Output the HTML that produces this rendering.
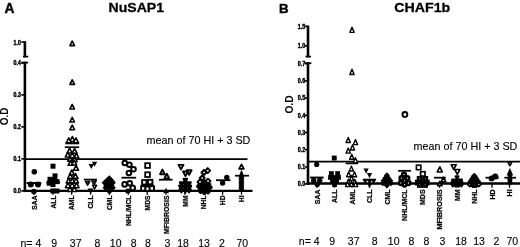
<!DOCTYPE html>
<html><head><meta charset="utf-8"><title>Figure</title>
<style>
html,body{margin:0;padding:0;background:#fff;}
body{width:520px;height:247px;overflow:hidden;font-family:"Liberation Sans",sans-serif;}
svg{display:block;filter:blur(0.3px);}
svg text{font-family:"Liberation Sans",sans-serif;fill:#000;}
</style></head><body>
<svg width="520" height="247" viewBox="0 0 520 247">
<rect width="520" height="247" fill="#fff"/>
<text x="4.4" y="12.7" font-size="13.8" font-weight="bold" text-anchor="start" stroke="#000" stroke-width="0.4">A</text>
<text x="108.6" y="11.5" font-size="13.6" font-weight="bold" text-anchor="start" textLength="55.4" lengthAdjust="spacingAndGlyphs" stroke="#000" stroke-width="0.3">NuSAP1</text>
<text x="278.9" y="12.8" font-size="13.6" font-weight="bold" text-anchor="start" stroke="#000" stroke-width="0.45" textLength="9.6" lengthAdjust="spacingAndGlyphs">B</text>
<text x="394.3" y="11.6" font-size="13.6" font-weight="bold" text-anchor="start" textLength="56.0" lengthAdjust="spacingAndGlyphs" stroke="#000" stroke-width="0.3">CHAF1b</text>
<path d="M24.9 41.3V57.3" stroke="#000" stroke-width="2.6"/>
<path d="M21.3 42.0H24.9" stroke="#000" stroke-width="1.6"/>
<path d="M22.9 56.6H28.3" stroke="#000" stroke-width="1.7"/>
<path d="M24.9 61.7V192.1" stroke="#000" stroke-width="2.6"/>
<path d="M21.3 62.9H24.9" stroke="#000" stroke-width="1.6"/>
<path d="M21.3 94.9H24.9" stroke="#000" stroke-width="1.6"/>
<path d="M21.3 126.9H24.9" stroke="#000" stroke-width="1.6"/>
<path d="M21.3 158.9H24.9" stroke="#000" stroke-width="1.6"/>
<path d="M21.3 190.9H24.9" stroke="#000" stroke-width="1.6"/>
<path d="M21.3 62.6H28.0" stroke="#000" stroke-width="1.8"/>
<text x="20.8" y="44.5" font-size="6.4" font-weight="bold" text-anchor="end" textLength="7.3" lengthAdjust="spacingAndGlyphs" stroke="#000" stroke-width="0.4">1.0</text>
<text x="20.8" y="65.2" font-size="6.4" font-weight="bold" text-anchor="end" textLength="7.3" lengthAdjust="spacingAndGlyphs" stroke="#000" stroke-width="0.4">0.4</text>
<text x="20.8" y="97.2" font-size="6.4" font-weight="bold" text-anchor="end" textLength="7.3" lengthAdjust="spacingAndGlyphs" stroke="#000" stroke-width="0.4">0.3</text>
<text x="20.8" y="129.2" font-size="6.4" font-weight="bold" text-anchor="end" textLength="7.3" lengthAdjust="spacingAndGlyphs" stroke="#000" stroke-width="0.4">0.2</text>
<text x="20.8" y="161.2" font-size="6.4" font-weight="bold" text-anchor="end" textLength="7.3" lengthAdjust="spacingAndGlyphs" stroke="#000" stroke-width="0.4">0.1</text>
<text x="20.8" y="193.2" font-size="6.4" font-weight="bold" text-anchor="end" textLength="7.3" lengthAdjust="spacingAndGlyphs" stroke="#000" stroke-width="0.4">0.0</text>
<text transform="translate(7.9 116.4) rotate(-90)" font-size="10" font-weight="bold" text-anchor="middle" stroke="#000" stroke-width="0.0">O.D</text>
<path d="M23.6 190.9H252.5" stroke="#000" stroke-width="2.4"/>
<path d="M34.0 190.9V194.7" stroke="#000" stroke-width="1.3"/>
<path d="M52.9 190.9V194.7" stroke="#000" stroke-width="1.3"/>
<path d="M71.7 190.9V194.7" stroke="#000" stroke-width="1.3"/>
<path d="M90.6 190.9V194.7" stroke="#000" stroke-width="1.3"/>
<path d="M109.4 190.9V194.7" stroke="#000" stroke-width="1.3"/>
<path d="M128.3 190.9V194.7" stroke="#000" stroke-width="1.3"/>
<path d="M147.2 190.9V194.7" stroke="#000" stroke-width="1.3"/>
<path d="M166.0 190.9V194.7" stroke="#000" stroke-width="1.3"/>
<path d="M184.9 190.9V194.7" stroke="#000" stroke-width="1.3"/>
<path d="M203.7 190.9V194.7" stroke="#000" stroke-width="1.3"/>
<path d="M222.6 190.9V194.7" stroke="#000" stroke-width="1.3"/>
<path d="M241.5 190.9V194.7" stroke="#000" stroke-width="1.3"/>
<path d="M24.9 159.2H247.5" stroke="#000" stroke-width="1.8"/>
<text x="146.5" y="143.6" font-size="10.2" font-weight="normal" text-anchor="start" textLength="103.9" lengthAdjust="spacingAndGlyphs" stroke="#000" stroke-width="0.12">mean of 70 HI + 3 SD</text>
<text transform="translate(36.6 195.5) rotate(-90)" font-size="6.7" font-weight="bold" text-anchor="end" stroke="#000" stroke-width="0.25">SAA</text>
<text transform="translate(55.5 195.5) rotate(-90)" font-size="6.7" font-weight="bold" text-anchor="end" stroke="#000" stroke-width="0.25">ALL</text>
<text transform="translate(74.3 195.5) rotate(-90)" font-size="6.7" font-weight="bold" text-anchor="end" stroke="#000" stroke-width="0.25">AML</text>
<text transform="translate(93.2 195.5) rotate(-90)" font-size="6.7" font-weight="bold" text-anchor="end" stroke="#000" stroke-width="0.25">CLL</text>
<text transform="translate(112.0 195.5) rotate(-90)" font-size="6.7" font-weight="bold" text-anchor="end" stroke="#000" stroke-width="0.25">CML</text>
<text transform="translate(130.9 195.5) rotate(-90)" font-size="6.7" font-weight="bold" text-anchor="end" stroke="#000" stroke-width="0.25" textLength="30.6" lengthAdjust="spacingAndGlyphs">NHL/MCL</text>
<text transform="translate(149.8 195.5) rotate(-90)" font-size="6.7" font-weight="bold" text-anchor="end" stroke="#000" stroke-width="0.25">MDS</text>
<text transform="translate(168.6 195.5) rotate(-90)" font-size="6.7" font-weight="bold" text-anchor="end" stroke="#000" stroke-width="0.25" textLength="38.4" lengthAdjust="spacingAndGlyphs">MFIBROSIS</text>
<text transform="translate(187.5 195.5) rotate(-90)" font-size="6.7" font-weight="bold" text-anchor="end" stroke="#000" stroke-width="0.25">MM</text>
<text transform="translate(206.3 195.5) rotate(-90)" font-size="6.7" font-weight="bold" text-anchor="end" stroke="#000" stroke-width="0.25">NHL</text>
<text transform="translate(225.2 195.5) rotate(-90)" font-size="6.7" font-weight="bold" text-anchor="end" stroke="#000" stroke-width="0.25">HD</text>
<text transform="translate(244.1 195.5) rotate(-90)" font-size="6.7" font-weight="bold" text-anchor="end" stroke="#000" stroke-width="0.25">HI</text>
<text x="20.5" y="247.1" font-size="10.5" font-weight="normal" text-anchor="start" stroke="#000" stroke-width="0.12">n= 4</text>
<text x="54.2" y="247.1" font-size="10.5" font-weight="normal" text-anchor="middle" stroke="#000" stroke-width="0.12">9</text>
<text x="75.7" y="247.1" font-size="10.5" font-weight="normal" text-anchor="middle" stroke="#000" stroke-width="0.12">37</text>
<text x="97.3" y="247.1" font-size="10.5" font-weight="normal" text-anchor="middle" stroke="#000" stroke-width="0.12">8</text>
<text x="115.7" y="247.1" font-size="10.5" font-weight="normal" text-anchor="middle" stroke="#000" stroke-width="0.12">10</text>
<text x="133.6" y="247.1" font-size="10.5" font-weight="normal" text-anchor="middle" stroke="#000" stroke-width="0.12">8</text>
<text x="148.0" y="247.1" font-size="10.5" font-weight="normal" text-anchor="middle" stroke="#000" stroke-width="0.12">8</text>
<text x="167.3" y="247.1" font-size="10.5" font-weight="normal" text-anchor="middle" stroke="#000" stroke-width="0.12">3</text>
<text x="183.0" y="247.1" font-size="10.5" font-weight="normal" text-anchor="middle" stroke="#000" stroke-width="0.12">18</text>
<text x="204.0" y="247.1" font-size="10.5" font-weight="normal" text-anchor="middle" stroke="#000" stroke-width="0.12">13</text>
<text x="222.0" y="247.1" font-size="10.5" font-weight="normal" text-anchor="middle" stroke="#000" stroke-width="0.12">2</text>
<text x="242.3" y="247.1" font-size="10.5" font-weight="normal" text-anchor="middle" stroke="#000" stroke-width="0.12">70</text>
<circle cx="34.3" cy="171.8" r="2.8" fill="#000"/>
<circle cx="30.8" cy="184.6" r="3.0" fill="#000"/>
<circle cx="38.0" cy="184.6" r="3.0" fill="#000"/>
<circle cx="33.9" cy="191.6" r="2.8" fill="#000"/>
<path d="M26.6 183.0H41.3" stroke="#000" stroke-width="2.0"/>
<rect x="50.5" y="163.7" width="5.0" height="5.0" fill="#000"/>
<rect x="52.5" y="173.4" width="5.0" height="5.0" fill="#000"/>
<rect x="47.5" y="176.8" width="5.0" height="5.0" fill="#000"/>
<rect x="52.0" y="177.7" width="5.0" height="5.0" fill="#000"/>
<rect x="54.5" y="179.1" width="5.0" height="5.0" fill="#000"/>
<rect x="46.7" y="180.7" width="5.0" height="5.0" fill="#000"/>
<rect x="50.5" y="182.1" width="5.0" height="5.0" fill="#000"/>
<rect x="50.3" y="188.5" width="5.0" height="5.0" fill="#000"/>
<rect x="54.5" y="188.5" width="5.0" height="5.0" fill="#000"/>
<path d="M46.5 182.6H60.0" stroke="#000" stroke-width="1.8"/>
<path d="M69.90 45.60L74.50 45.60L72.20 41.00Z" fill="#fff" stroke="#000" stroke-width="1.6" stroke-linejoin="round"/>
<path d="M69.90 84.40L74.50 84.40L72.20 79.80Z" fill="#fff" stroke="#000" stroke-width="1.6" stroke-linejoin="round"/>
<path d="M69.90 109.00L74.50 109.00L72.20 104.40Z" fill="#fff" stroke="#000" stroke-width="1.6" stroke-linejoin="round"/>
<path d="M69.90 122.00L74.50 122.00L72.20 117.40Z" fill="#fff" stroke="#000" stroke-width="1.6" stroke-linejoin="round"/>
<path d="M69.90 129.70L74.50 129.70L72.20 125.10Z" fill="#fff" stroke="#000" stroke-width="1.6" stroke-linejoin="round"/>
<path d="M69.88 141.47L74.93 141.47L72.40 136.53Z" fill="#fff" stroke="#000" stroke-width="1.55" stroke-linejoin="round"/>
<path d="M66.27 142.78L71.33 142.78L68.80 137.83Z" fill="#fff" stroke="#000" stroke-width="1.55" stroke-linejoin="round"/>
<path d="M73.47 142.78L78.53 142.78L76.00 137.83Z" fill="#fff" stroke="#000" stroke-width="1.55" stroke-linejoin="round"/>
<path d="M67.07 153.07L72.12 153.07L69.60 148.12Z" fill="#fff" stroke="#000" stroke-width="1.55" stroke-linejoin="round"/>
<path d="M72.07 153.38L77.12 153.38L74.60 148.43Z" fill="#fff" stroke="#000" stroke-width="1.55" stroke-linejoin="round"/>
<path d="M65.27 157.07L70.33 157.07L67.80 152.12Z" fill="#fff" stroke="#000" stroke-width="1.55" stroke-linejoin="round"/>
<path d="M69.67 157.67L74.73 157.67L72.20 152.72Z" fill="#fff" stroke="#000" stroke-width="1.55" stroke-linejoin="round"/>
<path d="M73.88 158.07L78.93 158.07L76.40 153.12Z" fill="#fff" stroke="#000" stroke-width="1.55" stroke-linejoin="round"/>
<path d="M67.67 161.28L72.73 161.28L70.20 156.33Z" fill="#fff" stroke="#000" stroke-width="1.55" stroke-linejoin="round"/>
<path d="M72.07 161.67L77.12 161.67L74.60 156.72Z" fill="#fff" stroke="#000" stroke-width="1.55" stroke-linejoin="round"/>
<path d="M68.07 165.28L73.12 165.28L70.60 160.33Z" fill="#fff" stroke="#000" stroke-width="1.55" stroke-linejoin="round"/>
<path d="M71.67 165.07L76.73 165.07L74.20 160.12Z" fill="#fff" stroke="#000" stroke-width="1.55" stroke-linejoin="round"/>
<path d="M73.47 170.28L78.53 170.28L76.00 165.33Z" fill="#fff" stroke="#000" stroke-width="1.55" stroke-linejoin="round"/>
<path d="M69.27 174.88L74.33 174.88L71.80 169.93Z" fill="#fff" stroke="#000" stroke-width="1.55" stroke-linejoin="round"/>
<path d="M67.77 178.47L72.83 178.47L70.30 173.53Z" fill="#fff" stroke="#000" stroke-width="1.55" stroke-linejoin="round"/>
<path d="M72.97 178.47L78.03 178.47L75.50 173.53Z" fill="#fff" stroke="#000" stroke-width="1.55" stroke-linejoin="round"/>
<path d="M66.17 183.07L71.23 183.07L68.70 178.12Z" fill="#fff" stroke="#000" stroke-width="1.55" stroke-linejoin="round"/>
<path d="M69.67 183.07L74.73 183.07L72.20 178.12Z" fill="#fff" stroke="#000" stroke-width="1.55" stroke-linejoin="round"/>
<path d="M73.47 183.07L78.53 183.07L76.00 178.12Z" fill="#fff" stroke="#000" stroke-width="1.55" stroke-linejoin="round"/>
<path d="M65.47 187.67L70.53 187.67L68.00 182.72Z" fill="#fff" stroke="#000" stroke-width="1.55" stroke-linejoin="round"/>
<path d="M69.67 187.67L74.73 187.67L72.20 182.72Z" fill="#fff" stroke="#000" stroke-width="1.55" stroke-linejoin="round"/>
<path d="M73.97 187.67L79.03 187.67L76.50 182.72Z" fill="#fff" stroke="#000" stroke-width="1.55" stroke-linejoin="round"/>
<path d="M67.47 191.47L72.53 191.47L70.00 186.53Z" fill="#fff" stroke="#000" stroke-width="1.55" stroke-linejoin="round"/>
<path d="M71.88 191.47L76.93 191.47L74.40 186.53Z" fill="#fff" stroke="#000" stroke-width="1.55" stroke-linejoin="round"/>
<path d="M65.3 143.4H79.2" stroke="#000" stroke-width="1.8"/>
<path d="M64.8 147.2H79.2" stroke="#000" stroke-width="1.7"/>
<path d="M91.8 161.8L97.2 161.8L94.5 166.8Z" fill="#000"/>
<path d="M88.6 163.9L94.0 163.9L91.3 168.9Z" fill="#000"/>
<path d="M85.60 181.60L89.60 181.60L87.60 185.20Z" fill="#fff" stroke="#000" stroke-width="1.6" stroke-linejoin="round"/>
<path d="M92.00 181.00L96.00 181.00L94.00 184.60Z" fill="#fff" stroke="#000" stroke-width="1.6" stroke-linejoin="round"/>
<path d="M92.60 185.20L96.60 185.20L94.60 188.80Z" fill="#fff" stroke="#000" stroke-width="1.6" stroke-linejoin="round"/>
<path d="M87.6 188.4L93.6 188.4L90.6 193.9Z" fill="#000"/>
<path d="M83.8 179.6H97.0" stroke="#000" stroke-width="1.8"/>
<path d="M106.0 178.6L109.3 175.3L112.6 178.6L109.3 181.9Z" fill="#000"/>
<path d="M103.7 180.8L107.0 177.5L110.3 180.8L107.0 184.1Z" fill="#000"/>
<path d="M108.3 181.0L111.6 177.7L114.9 181.0L111.6 184.3Z" fill="#000"/>
<path d="M101.6 182.8L104.9 179.5L108.2 182.8L104.9 186.1Z" fill="#000"/>
<path d="M105.7 183.2L109.0 179.9L112.3 183.2L109.0 186.5Z" fill="#000"/>
<path d="M109.3 182.8L112.6 179.5L115.9 182.8L112.6 186.1Z" fill="#000"/>
<path d="M103.3 185.4L106.6 182.1L109.9 185.4L106.6 188.7Z" fill="#000"/>
<path d="M107.9 185.6L111.2 182.3L114.5 185.6L111.2 188.9Z" fill="#000"/>
<path d="M102.5 187.8L105.8 184.5L109.1 187.8L105.8 191.1Z" fill="#000"/>
<path d="M105.9 188.0L109.2 184.7L112.5 188.0L109.2 191.3Z" fill="#000"/>
<path d="M109.3 187.8L112.6 184.5L115.9 187.8L112.6 191.1Z" fill="#000"/>
<path d="M106.2 191.2L109.5 187.9L112.8 191.2L109.5 194.5Z" fill="#000"/>
<circle cx="124.8" cy="163.0" r="2.3" fill="#fff" stroke="#000" stroke-width="2.0"/>
<circle cx="129.4" cy="164.8" r="2.3" fill="#fff" stroke="#000" stroke-width="2.0"/>
<circle cx="133.5" cy="169.3" r="2.3" fill="#fff" stroke="#000" stroke-width="2.0"/>
<circle cx="128.9" cy="173.0" r="2.3" fill="#fff" stroke="#000" stroke-width="2.0"/>
<circle cx="124.6" cy="184.4" r="2.3" fill="#fff" stroke="#000" stroke-width="2.0"/>
<circle cx="129.7" cy="183.2" r="2.3" fill="#fff" stroke="#000" stroke-width="2.0"/>
<circle cx="132.7" cy="187.9" r="2.3" fill="#fff" stroke="#000" stroke-width="2.0"/>
<circle cx="127.8" cy="191.0" r="2.6" fill="#000"/>
<path d="M121.5 177.7H136.2" stroke="#000" stroke-width="1.8"/>
<rect x="145.2" y="163.2" width="4.7" height="4.7" fill="#fff" stroke="#000" stroke-width="1.8"/>
<rect x="145.2" y="172.3" width="4.7" height="4.7" fill="#fff" stroke="#000" stroke-width="1.8"/>
<rect x="142.1" y="180.1" width="4.4" height="4.4" fill="#fff" stroke="#000" stroke-width="1.9"/>
<rect x="148.0" y="179.8" width="4.4" height="4.4" fill="#fff" stroke="#000" stroke-width="1.9"/>
<rect x="141.1" y="186.2" width="4.4" height="4.4" fill="#fff" stroke="#000" stroke-width="1.9"/>
<rect x="145.4" y="186.6" width="4.4" height="4.4" fill="#fff" stroke="#000" stroke-width="1.9"/>
<rect x="149.6" y="186.2" width="4.4" height="4.4" fill="#fff" stroke="#000" stroke-width="1.9"/>
<path d="M141.3 185.4H153.6" stroke="#000" stroke-width="1.8"/>
<path d="M160.05 174.25L164.75 174.25L162.40 169.55Z" fill="#fff" stroke="#000" stroke-width="1.9" stroke-linejoin="round"/>
<path d="M164.45 178.45L169.15 178.45L166.80 173.75Z" fill="#fff" stroke="#000" stroke-width="1.9" stroke-linejoin="round"/>
<path d="M163.2 193.3L169.0 193.3L166.1 187.7Z" fill="#000"/>
<path d="M159.0 179.7H172.5" stroke="#000" stroke-width="1.8"/>
<path d="M178.50 164.85L183.50 164.85L181.00 169.35Z" fill="#fff" stroke="#000" stroke-width="1.9" stroke-linejoin="round"/>
<path d="M186.60 170.25L191.60 170.25L189.10 174.75Z" fill="#fff" stroke="#000" stroke-width="1.9" stroke-linejoin="round"/>
<path d="M183.00 171.45L188.00 171.45L185.50 175.95Z" fill="#fff" stroke="#000" stroke-width="1.9" stroke-linejoin="round"/>
<path d="M183.65 178.95L186.95 178.95L185.30 181.85Z" fill="#fff" stroke="#000" stroke-width="2.3" stroke-linejoin="round"/>
<path d="M179.95 182.35L183.25 182.35L181.60 185.25Z" fill="#fff" stroke="#000" stroke-width="2.3" stroke-linejoin="round"/>
<path d="M183.65 182.55L186.95 182.55L185.30 185.45Z" fill="#fff" stroke="#000" stroke-width="2.3" stroke-linejoin="round"/>
<path d="M187.35 182.35L190.65 182.35L189.00 185.25Z" fill="#fff" stroke="#000" stroke-width="2.3" stroke-linejoin="round"/>
<path d="M179.35 185.95L182.65 185.95L181.00 188.85Z" fill="#fff" stroke="#000" stroke-width="2.3" stroke-linejoin="round"/>
<path d="M183.65 186.15L186.95 186.15L185.30 189.05Z" fill="#fff" stroke="#000" stroke-width="2.3" stroke-linejoin="round"/>
<path d="M187.75 185.95L191.05 185.95L189.40 188.85Z" fill="#fff" stroke="#000" stroke-width="2.3" stroke-linejoin="round"/>
<path d="M179.75 189.35L183.05 189.35L181.40 192.25Z" fill="#fff" stroke="#000" stroke-width="2.3" stroke-linejoin="round"/>
<path d="M183.65 189.55L186.95 189.55L185.30 192.45Z" fill="#fff" stroke="#000" stroke-width="2.3" stroke-linejoin="round"/>
<path d="M187.35 189.35L190.65 189.35L189.00 192.25Z" fill="#fff" stroke="#000" stroke-width="2.3" stroke-linejoin="round"/>
<path d="M178.3 185.6H191.7" stroke="#000" stroke-width="1.8"/>
<path d="M205.2 170.6L207.7 168.1L210.2 170.6L207.7 173.1Z" fill="#fff" stroke="#000" stroke-width="1.9" stroke-linejoin="round"/>
<path d="M201.4 172.5L203.9 170.0L206.4 172.5L203.9 175.0Z" fill="#fff" stroke="#000" stroke-width="1.9" stroke-linejoin="round"/>
<path d="M199.7 178.0L202.2 175.5L204.7 178.0L202.2 180.5Z" fill="#fff" stroke="#000" stroke-width="1.9" stroke-linejoin="round"/>
<path d="M205.5 181.2L208.0 178.7L210.5 181.2L208.0 183.7Z" fill="#fff" stroke="#000" stroke-width="1.9" stroke-linejoin="round"/>
<path d="M197.5 181.9L200.0 179.4L202.5 181.9L200.0 184.4Z" fill="#fff" stroke="#000" stroke-width="1.9" stroke-linejoin="round"/>
<path d="M202.1 182.8L204.6 180.3L207.1 182.8L204.6 185.3Z" fill="#fff" stroke="#000" stroke-width="1.9" stroke-linejoin="round"/>
<path d="M201.5 184.4L203.4 182.5L205.3 184.4L203.4 186.3Z" fill="#fff" stroke="#000" stroke-width="2.9" stroke-linejoin="round"/>
<path d="M205.5 185.4L207.4 183.5L209.3 185.4L207.4 187.3Z" fill="#fff" stroke="#000" stroke-width="2.9" stroke-linejoin="round"/>
<path d="M197.5 186.4L199.4 184.5L201.3 186.4L199.4 188.3Z" fill="#fff" stroke="#000" stroke-width="2.9" stroke-linejoin="round"/>
<path d="M207.5 187.4L209.4 185.5L211.3 187.4L209.4 189.3Z" fill="#fff" stroke="#000" stroke-width="2.9" stroke-linejoin="round"/>
<path d="M201.3 188.4L203.2 186.5L205.1 188.4L203.2 190.3Z" fill="#fff" stroke="#000" stroke-width="2.9" stroke-linejoin="round"/>
<path d="M204.7 189.0L206.6 187.1L208.5 189.0L206.6 190.9Z" fill="#fff" stroke="#000" stroke-width="2.9" stroke-linejoin="round"/>
<path d="M198.7 190.6L200.6 188.7L202.5 190.6L200.6 192.5Z" fill="#fff" stroke="#000" stroke-width="2.9" stroke-linejoin="round"/>
<path d="M206.1 191.0L208.0 189.1L209.9 191.0L208.0 192.9Z" fill="#fff" stroke="#000" stroke-width="2.9" stroke-linejoin="round"/>
<path d="M202.5 191.8L204.4 189.9L206.3 191.8L204.4 193.7Z" fill="#fff" stroke="#000" stroke-width="2.9" stroke-linejoin="round"/>
<path d="M197.5 184.0H211.5" stroke="#000" stroke-width="1.6"/>
<circle cx="226.8" cy="177.5" r="2.7" fill="#000"/>
<circle cx="222.6" cy="183.0" r="2.7" fill="#000"/>
<path d="M216.0 180.2H230.5" stroke="#000" stroke-width="1.8"/>
<path d="M239.05 168.85L243.95 168.85L241.50 164.35Z" fill="#fff" stroke="#000" stroke-width="1.7" stroke-linejoin="round"/>
<path d="M241.5 169.6L244.6 177.6H238.4Z" fill="#000"/>
<path d="M238.7 178.6H244.1M241.4 175.9V181.3M239.5 176.7L243.3 180.5M239.5 180.5L243.3 176.7" stroke="#000" stroke-width="1.35" fill="none"/>
<path d="M238.7 180.8H244.1M241.4 178.1V183.5M239.5 178.9L243.3 182.7M239.5 182.7L243.3 178.9" stroke="#000" stroke-width="1.35" fill="none"/>
<path d="M238.7 183.0H244.1M241.4 180.3V185.7M239.5 181.1L243.3 184.9M239.5 184.9L243.3 181.1" stroke="#000" stroke-width="1.35" fill="none"/>
<path d="M238.7 185.2H244.1M241.4 182.5V187.9M239.5 183.3L243.3 187.1M239.5 187.1L243.3 183.3" stroke="#000" stroke-width="1.35" fill="none"/>
<path d="M238.7 187.4H244.1M241.4 184.7V190.1M239.5 185.5L243.3 189.3M239.5 189.3L243.3 185.5" stroke="#000" stroke-width="1.35" fill="none"/>
<path d="M238.7 189.4H244.1M241.4 186.7V192.1M239.5 187.5L243.3 191.3M239.5 191.3L243.3 187.5" stroke="#000" stroke-width="1.35" fill="none"/>
<path d="M235.0 175.7H249.0" stroke="#000" stroke-width="1.7"/>
<path d="M308.0 25.6V57.3" stroke="#000" stroke-width="2.6"/>
<path d="M305.0 26.3H308.0" stroke="#000" stroke-width="1.6"/>
<path d="M305.0 45.9H308.0" stroke="#000" stroke-width="1.6"/>
<path d="M305.6 56.6H311.0" stroke="#000" stroke-width="1.7"/>
<text x="305.2" y="28.7" font-size="6.4" font-weight="bold" text-anchor="end" textLength="7.5" lengthAdjust="spacingAndGlyphs" stroke="#000" stroke-width="0.4">1.5</text>
<text x="305.2" y="48.3" font-size="6.4" font-weight="bold" text-anchor="end" textLength="7.5" lengthAdjust="spacingAndGlyphs" stroke="#000" stroke-width="0.4">1.0</text>
<path d="M308.0 62.3V184.7" stroke="#000" stroke-width="2.6"/>
<path d="M304.6 63.2H311.4" stroke="#000" stroke-width="1.8"/>
<path d="M305.0 63.7H308.0" stroke="#000" stroke-width="1.6"/>
<text x="305.2" y="66.0" font-size="6.4" font-weight="bold" text-anchor="end" textLength="7.5" lengthAdjust="spacingAndGlyphs" stroke="#000" stroke-width="0.4">0.7</text>
<path d="M305.0 80.9H308.0" stroke="#000" stroke-width="1.6"/>
<text x="305.2" y="83.2" font-size="6.4" font-weight="bold" text-anchor="end" textLength="7.5" lengthAdjust="spacingAndGlyphs" stroke="#000" stroke-width="0.4">0.6</text>
<path d="M305.0 98.1H308.0" stroke="#000" stroke-width="1.6"/>
<text x="305.2" y="100.4" font-size="6.4" font-weight="bold" text-anchor="end" textLength="7.5" lengthAdjust="spacingAndGlyphs" stroke="#000" stroke-width="0.4">0.5</text>
<path d="M305.0 115.3H308.0" stroke="#000" stroke-width="1.6"/>
<text x="305.2" y="117.6" font-size="6.4" font-weight="bold" text-anchor="end" textLength="7.5" lengthAdjust="spacingAndGlyphs" stroke="#000" stroke-width="0.4">0.4</text>
<path d="M305.0 132.5H308.0" stroke="#000" stroke-width="1.6"/>
<text x="305.2" y="134.8" font-size="6.4" font-weight="bold" text-anchor="end" textLength="7.5" lengthAdjust="spacingAndGlyphs" stroke="#000" stroke-width="0.4">0.3</text>
<path d="M305.0 149.7H308.0" stroke="#000" stroke-width="1.6"/>
<text x="305.2" y="152.0" font-size="6.4" font-weight="bold" text-anchor="end" textLength="7.5" lengthAdjust="spacingAndGlyphs" stroke="#000" stroke-width="0.4">0.2</text>
<path d="M305.0 166.9H308.0" stroke="#000" stroke-width="1.6"/>
<text x="305.2" y="169.2" font-size="6.4" font-weight="bold" text-anchor="end" textLength="7.5" lengthAdjust="spacingAndGlyphs" stroke="#000" stroke-width="0.4">0.1</text>
<path d="M305.0 183.9H308.0" stroke="#000" stroke-width="1.6"/>
<text x="305.2" y="186.2" font-size="6.4" font-weight="bold" text-anchor="end" textLength="7.5" lengthAdjust="spacingAndGlyphs" stroke="#000" stroke-width="0.4">0.0</text>
<text transform="translate(293.4 104.5) rotate(-90)" font-size="11" font-weight="bold" text-anchor="middle" stroke="#000" stroke-width="0.0" textLength="18.2" lengthAdjust="spacingAndGlyphs">O.D</text>
<path d="M306.6 183.5H520.0" stroke="#000" stroke-width="2.6"/>
<path d="M317.0 183.5V187.8" stroke="#000" stroke-width="1.3"/>
<path d="M334.5 183.5V187.8" stroke="#000" stroke-width="1.3"/>
<path d="M352.0 183.5V187.8" stroke="#000" stroke-width="1.3"/>
<path d="M369.5 183.5V187.8" stroke="#000" stroke-width="1.3"/>
<path d="M387.0 183.5V187.8" stroke="#000" stroke-width="1.3"/>
<path d="M404.5 183.5V187.8" stroke="#000" stroke-width="1.3"/>
<path d="M422.0 183.5V187.8" stroke="#000" stroke-width="1.3"/>
<path d="M439.5 183.5V187.8" stroke="#000" stroke-width="1.3"/>
<path d="M457.0 183.5V187.8" stroke="#000" stroke-width="1.3"/>
<path d="M474.5 183.5V187.8" stroke="#000" stroke-width="1.3"/>
<path d="M492.0 183.5V187.8" stroke="#000" stroke-width="1.3"/>
<path d="M509.5 183.5V187.8" stroke="#000" stroke-width="1.3"/>
<path d="M308.0 161.7H520.0" stroke="#000" stroke-width="1.8"/>
<text x="413.5" y="150.1" font-size="10.2" font-weight="normal" text-anchor="start" textLength="103.9" lengthAdjust="spacingAndGlyphs" stroke="#000" stroke-width="0.12">mean of 70 HI + 3 SD</text>
<text transform="translate(319.9 189.4) rotate(-90)" font-size="7.0" font-weight="bold" text-anchor="end" stroke="#000" stroke-width="0.25">SAA</text>
<text transform="translate(337.4 189.4) rotate(-90)" font-size="7.0" font-weight="bold" text-anchor="end" stroke="#000" stroke-width="0.25">ALL</text>
<text transform="translate(354.9 189.4) rotate(-90)" font-size="7.0" font-weight="bold" text-anchor="end" stroke="#000" stroke-width="0.25">AML</text>
<text transform="translate(372.4 189.4) rotate(-90)" font-size="7.0" font-weight="bold" text-anchor="end" stroke="#000" stroke-width="0.25">CLL</text>
<text transform="translate(389.9 189.4) rotate(-90)" font-size="7.0" font-weight="bold" text-anchor="end" stroke="#000" stroke-width="0.25">CML</text>
<text transform="translate(407.4 189.4) rotate(-90)" font-size="7.0" font-weight="bold" text-anchor="end" stroke="#000" stroke-width="0.25">NHL/MCL</text>
<text transform="translate(424.9 189.4) rotate(-90)" font-size="7.0" font-weight="bold" text-anchor="end" stroke="#000" stroke-width="0.25">MDS</text>
<text transform="translate(442.4 189.4) rotate(-90)" font-size="7.0" font-weight="bold" text-anchor="end" stroke="#000" stroke-width="0.25" textLength="40.2" lengthAdjust="spacingAndGlyphs">MFIBROSIS</text>
<text transform="translate(459.9 189.4) rotate(-90)" font-size="7.0" font-weight="bold" text-anchor="end" stroke="#000" stroke-width="0.25">MM</text>
<text transform="translate(477.4 189.4) rotate(-90)" font-size="7.0" font-weight="bold" text-anchor="end" stroke="#000" stroke-width="0.25">NHL</text>
<text transform="translate(494.9 189.4) rotate(-90)" font-size="7.0" font-weight="bold" text-anchor="end" stroke="#000" stroke-width="0.25">HD</text>
<text transform="translate(512.4 189.4) rotate(-90)" font-size="7.0" font-weight="bold" text-anchor="end" stroke="#000" stroke-width="0.25">HI</text>
<text x="298.8" y="245.2" font-size="10.5" font-weight="normal" text-anchor="start" stroke="#000" stroke-width="0.12">n= 4</text>
<text x="332.2" y="245.2" font-size="10.5" font-weight="normal" text-anchor="middle" stroke="#000" stroke-width="0.12">9</text>
<text x="353.7" y="245.2" font-size="10.5" font-weight="normal" text-anchor="middle" stroke="#000" stroke-width="0.12">37</text>
<text x="374.7" y="245.2" font-size="10.5" font-weight="normal" text-anchor="middle" stroke="#000" stroke-width="0.12">8</text>
<text x="393.7" y="245.2" font-size="10.5" font-weight="normal" text-anchor="middle" stroke="#000" stroke-width="0.12">10</text>
<text x="411.3" y="245.2" font-size="10.5" font-weight="normal" text-anchor="middle" stroke="#000" stroke-width="0.12">8</text>
<text x="426.3" y="245.2" font-size="10.5" font-weight="normal" text-anchor="middle" stroke="#000" stroke-width="0.12">8</text>
<text x="442.4" y="245.2" font-size="10.5" font-weight="normal" text-anchor="middle" stroke="#000" stroke-width="0.12">3</text>
<text x="461.1" y="245.2" font-size="10.5" font-weight="normal" text-anchor="middle" stroke="#000" stroke-width="0.12">18</text>
<text x="479.1" y="245.2" font-size="10.5" font-weight="normal" text-anchor="middle" stroke="#000" stroke-width="0.12">13</text>
<text x="496.5" y="245.2" font-size="10.5" font-weight="normal" text-anchor="middle" stroke="#000" stroke-width="0.12">2</text>
<text x="512.3" y="245.2" font-size="10.5" font-weight="normal" text-anchor="middle" stroke="#000" stroke-width="0.12">70</text>
<circle cx="316.7" cy="164.4" r="2.6" fill="#000"/>
<circle cx="313.7" cy="180.6" r="2.7" fill="#000"/>
<circle cx="319.7" cy="180.6" r="2.7" fill="#000"/>
<circle cx="317.3" cy="184.6" r="2.6" fill="#000"/>
<path d="M310.1 177.6H323.6" stroke="#000" stroke-width="2.0"/>
<rect x="331.8" y="155.6" width="4.9" height="4.9" fill="#000"/>
<rect x="329.0" y="171.2" width="4.8" height="4.8" fill="#000"/>
<rect x="335.2" y="171.2" width="4.8" height="4.8" fill="#000"/>
<rect x="328.2" y="174.8" width="4.8" height="4.8" fill="#000"/>
<rect x="332.1" y="175.2" width="4.8" height="4.8" fill="#000"/>
<rect x="336.0" y="174.8" width="4.8" height="4.8" fill="#000"/>
<rect x="330.1" y="178.2" width="4.8" height="4.8" fill="#000"/>
<rect x="334.2" y="178.4" width="4.8" height="4.8" fill="#000"/>
<rect x="332.1" y="182.2" width="4.8" height="4.8" fill="#000"/>
<path d="M328.0 178.6H340.9" stroke="#000" stroke-width="1.8"/>
<path d="M349.85 32.35L354.15 32.35L352.00 27.25Z" fill="#fff" stroke="#000" stroke-width="1.4" stroke-linejoin="round"/>
<path d="M349.85 74.45L354.15 74.45L352.00 69.35Z" fill="#fff" stroke="#000" stroke-width="1.4" stroke-linejoin="round"/>
<path d="M346.05 142.55L350.35 142.55L348.20 137.45Z" fill="#fff" stroke="#000" stroke-width="1.4" stroke-linejoin="round"/>
<path d="M353.35 144.65L357.65 144.65L355.50 139.55Z" fill="#fff" stroke="#000" stroke-width="1.4" stroke-linejoin="round"/>
<path d="M350.35 150.05L354.65 150.05L352.50 144.95Z" fill="#fff" stroke="#000" stroke-width="1.4" stroke-linejoin="round"/>
<path d="M346.05 153.15L350.35 153.15L348.20 148.05Z" fill="#fff" stroke="#000" stroke-width="1.4" stroke-linejoin="round"/>
<path d="M349.65 159.25L353.95 159.25L351.80 154.15Z" fill="#fff" stroke="#000" stroke-width="1.4" stroke-linejoin="round"/>
<path d="M353.25 162.85L357.55 162.85L355.40 157.75Z" fill="#fff" stroke="#000" stroke-width="1.4" stroke-linejoin="round"/>
<path d="M345.6 163.4H358.2" stroke="#000" stroke-width="1.7"/>
<path d="M349.27 171.03L353.52 171.03L351.40 166.17Z" fill="#fff" stroke="#000" stroke-width="1.35" stroke-linejoin="round"/>
<path d="M346.57 176.73L350.82 176.73L348.70 171.88Z" fill="#fff" stroke="#000" stroke-width="1.35" stroke-linejoin="round"/>
<path d="M352.38 176.73L356.62 176.73L354.50 171.88Z" fill="#fff" stroke="#000" stroke-width="1.35" stroke-linejoin="round"/>
<path d="M349.38 180.43L353.62 180.43L351.50 175.57Z" fill="#fff" stroke="#000" stroke-width="1.35" stroke-linejoin="round"/>
<path d="M346.27 184.03L350.52 184.03L348.40 179.17Z" fill="#fff" stroke="#000" stroke-width="1.35" stroke-linejoin="round"/>
<path d="M352.68 184.03L356.93 184.03L354.80 179.17Z" fill="#fff" stroke="#000" stroke-width="1.35" stroke-linejoin="round"/>
<path d="M349.38 186.23L353.62 186.23L351.50 181.38Z" fill="#fff" stroke="#000" stroke-width="1.35" stroke-linejoin="round"/>
<path d="M345.48 186.62L349.73 186.62L347.60 181.77Z" fill="#fff" stroke="#000" stroke-width="1.35" stroke-linejoin="round"/>
<path d="M353.48 186.62L357.73 186.62L355.60 181.77Z" fill="#fff" stroke="#000" stroke-width="1.35" stroke-linejoin="round"/>
<path d="M363.5 168.6L368.7 168.6L366.1 173.8Z" fill="#000"/>
<path d="M366.9 173.0L372.1 173.0L369.5 178.2Z" fill="#000"/>
<path d="M362.5 178.9L367.9 178.9L365.2 183.9Z" fill="#000"/>
<path d="M366.8 179.3L372.2 179.3L369.5 184.3Z" fill="#000"/>
<path d="M370.9 178.9L376.3 178.9L373.6 183.9Z" fill="#000"/>
<path d="M366.8 182.9L372.2 182.9L369.5 187.9Z" fill="#000"/>
<path d="M362.9 179.6H375.8" stroke="#000" stroke-width="1.8"/>
<path d="M383.9 175.3L386.9 172.3L389.9 175.3L386.9 178.3Z" fill="#000"/>
<path d="M382.3 178.0L385.3 175.0L388.3 178.0L385.3 181.0Z" fill="#000"/>
<path d="M385.5 178.3L388.5 175.3L391.5 178.3L388.5 181.3Z" fill="#000"/>
<path d="M380.5 180.8L383.5 177.8L386.5 180.8L383.5 183.8Z" fill="#000"/>
<path d="M383.9 181.1L386.9 178.1L389.9 181.1L386.9 184.1Z" fill="#000"/>
<path d="M387.3 180.8L390.3 177.8L393.3 180.8L390.3 183.8Z" fill="#000"/>
<path d="M379.9 183.2L382.9 180.2L385.9 183.2L382.9 186.2Z" fill="#000"/>
<path d="M383.9 183.6L386.9 180.6L389.9 183.6L386.9 186.6Z" fill="#000"/>
<path d="M388.0 183.2L391.0 180.2L394.0 183.2L391.0 186.2Z" fill="#000"/>
<path d="M383.9 185.4L386.9 182.4L389.9 185.4L386.9 188.4Z" fill="#000"/>
<circle cx="404.9" cy="114.4" r="2.45" fill="#fff" stroke="#000" stroke-width="1.9"/>
<circle cx="404.0" cy="174.6" r="1.9" fill="#fff" stroke="#000" stroke-width="2.5"/>
<circle cx="401.5" cy="178.2" r="1.9" fill="#fff" stroke="#000" stroke-width="2.5"/>
<circle cx="407.3" cy="178.2" r="1.9" fill="#fff" stroke="#000" stroke-width="2.5"/>
<circle cx="404.4" cy="181.0" r="1.9" fill="#fff" stroke="#000" stroke-width="2.5"/>
<circle cx="400.9" cy="183.0" r="1.9" fill="#fff" stroke="#000" stroke-width="2.5"/>
<circle cx="408.5" cy="183.0" r="1.9" fill="#fff" stroke="#000" stroke-width="2.5"/>
<circle cx="404.6" cy="184.6" r="1.9" fill="#fff" stroke="#000" stroke-width="2.5"/>
<path d="M398.1 170.8H410.9" stroke="#000" stroke-width="1.8"/>
<rect x="416.4" y="165.2" width="4.5" height="4.5" fill="#fff" stroke="#000" stroke-width="1.6"/>
<rect x="420.6" y="171.7" width="4.4" height="4.4" fill="#fff" stroke="#000" stroke-width="1.7"/>
<rect x="418.0" y="177.2" width="3.3" height="3.3" fill="#fff" stroke="#000" stroke-width="2.5"/>
<rect x="423.6" y="177.2" width="3.3" height="3.3" fill="#fff" stroke="#000" stroke-width="2.5"/>
<rect x="416.2" y="180.9" width="3.3" height="3.3" fill="#fff" stroke="#000" stroke-width="2.5"/>
<rect x="420.8" y="181.2" width="3.3" height="3.3" fill="#fff" stroke="#000" stroke-width="2.5"/>
<rect x="425.2" y="180.9" width="3.3" height="3.3" fill="#fff" stroke="#000" stroke-width="2.5"/>
<rect x="418.2" y="183.3" width="3.3" height="3.3" fill="#fff" stroke="#000" stroke-width="2.5"/>
<rect x="423.4" y="183.3" width="3.3" height="3.3" fill="#fff" stroke="#000" stroke-width="2.5"/>
<path d="M416.0 181.0H428.8" stroke="#000" stroke-width="1.6"/>
<path d="M437.25 172.05L442.35 172.05L439.80 166.95Z" fill="#fff" stroke="#000" stroke-width="1.6" stroke-linejoin="round"/>
<path d="M441.15 181.85L445.85 181.85L443.50 177.15Z" fill="#fff" stroke="#000" stroke-width="1.7" stroke-linejoin="round"/>
<path d="M437.70 185.70L441.90 185.70L439.80 181.50Z" fill="#fff" stroke="#000" stroke-width="1.8" stroke-linejoin="round"/>
<path d="M434.0 177.7H445.8" stroke="#000" stroke-width="1.8"/>
<path d="M451.15 164.70L456.25 164.70L453.70 169.50Z" fill="#fff" stroke="#000" stroke-width="1.6" stroke-linejoin="round"/>
<path d="M454.75 169.50L459.85 169.50L457.30 174.30Z" fill="#fff" stroke="#000" stroke-width="1.6" stroke-linejoin="round"/>
<path d="M455.70 176.40L458.30 176.40L457.00 178.40Z" fill="#fff" stroke="#000" stroke-width="2.4" stroke-linejoin="round"/>
<path d="M452.30 179.60L454.90 179.60L453.60 181.60Z" fill="#fff" stroke="#000" stroke-width="2.4" stroke-linejoin="round"/>
<path d="M456.10 179.80L458.70 179.80L457.40 181.80Z" fill="#fff" stroke="#000" stroke-width="2.4" stroke-linejoin="round"/>
<path d="M459.30 179.60L461.90 179.60L460.60 181.60Z" fill="#fff" stroke="#000" stroke-width="2.4" stroke-linejoin="round"/>
<path d="M451.70 182.60L454.30 182.60L453.00 184.60Z" fill="#fff" stroke="#000" stroke-width="2.4" stroke-linejoin="round"/>
<path d="M455.70 182.80L458.30 182.80L457.00 184.80Z" fill="#fff" stroke="#000" stroke-width="2.4" stroke-linejoin="round"/>
<path d="M459.70 182.60L462.30 182.60L461.00 184.60Z" fill="#fff" stroke="#000" stroke-width="2.4" stroke-linejoin="round"/>
<path d="M451.50 184.20L454.10 184.20L452.80 186.20Z" fill="#fff" stroke="#000" stroke-width="2.4" stroke-linejoin="round"/>
<path d="M454.30 184.40L456.90 184.40L455.60 186.40Z" fill="#fff" stroke="#000" stroke-width="2.4" stroke-linejoin="round"/>
<path d="M457.30 184.40L459.90 184.40L458.60 186.40Z" fill="#fff" stroke="#000" stroke-width="2.4" stroke-linejoin="round"/>
<path d="M460.10 184.20L462.70 184.20L461.40 186.20Z" fill="#fff" stroke="#000" stroke-width="2.4" stroke-linejoin="round"/>
<path d="M450.8 181.4H463.2" stroke="#000" stroke-width="1.6"/>
<path d="M472.3 176.3L474.3 174.3L476.3 176.3L474.3 178.3Z" fill="#fff" stroke="#000" stroke-width="2.6" stroke-linejoin="round"/>
<path d="M470.6 179.2L472.6 177.2L474.6 179.2L472.6 181.2Z" fill="#fff" stroke="#000" stroke-width="2.6" stroke-linejoin="round"/>
<path d="M474.0 179.2L476.0 177.2L478.0 179.2L476.0 181.2Z" fill="#fff" stroke="#000" stroke-width="2.6" stroke-linejoin="round"/>
<path d="M468.8 182.0L470.8 180.0L472.8 182.0L470.8 184.0Z" fill="#fff" stroke="#000" stroke-width="2.6" stroke-linejoin="round"/>
<path d="M472.3 182.2L474.3 180.2L476.3 182.2L474.3 184.2Z" fill="#fff" stroke="#000" stroke-width="2.6" stroke-linejoin="round"/>
<path d="M475.8 182.0L477.8 180.0L479.8 182.0L477.8 184.0Z" fill="#fff" stroke="#000" stroke-width="2.6" stroke-linejoin="round"/>
<path d="M467.9 184.0L469.9 182.0L471.9 184.0L469.9 186.0Z" fill="#fff" stroke="#000" stroke-width="2.6" stroke-linejoin="round"/>
<path d="M471.0 184.8L473.0 182.8L475.0 184.8L473.0 186.8Z" fill="#fff" stroke="#000" stroke-width="2.6" stroke-linejoin="round"/>
<path d="M474.0 184.8L476.0 182.8L478.0 184.8L476.0 186.8Z" fill="#fff" stroke="#000" stroke-width="2.6" stroke-linejoin="round"/>
<path d="M476.8 184.0L478.8 182.0L480.8 184.0L478.8 186.0Z" fill="#fff" stroke="#000" stroke-width="2.6" stroke-linejoin="round"/>
<circle cx="495.2" cy="176.5" r="3.1" fill="#000"/>
<circle cx="491.6" cy="178.4" r="2.9" fill="#000"/>
<path d="M485.5 177.7H498.8" stroke="#000" stroke-width="1.8"/>
<path d="M508.00 162.60L511.80 162.60L509.90 165.80Z" fill="#fff" stroke="#000" stroke-width="1.4" stroke-linejoin="round"/>
<path d="M509.9 167.8L513.2 175.6H506.6Z" fill="#000"/>
<rect x="508.0" y="175" width="3.9" height="9.5" fill="#000"/>
<path d="M507.3 179.6H512.5M509.9 177.0V182.2M508.1 177.8L511.7 181.4M508.1 181.4L511.7 177.8" stroke="#000" stroke-width="1.1" fill="none"/>
<path d="M507.3 182.0H512.5M509.9 179.4V184.6M508.1 180.2L511.7 183.8M508.1 183.8L511.7 180.2" stroke="#000" stroke-width="1.1" fill="none"/>
<path d="M504.4 177.7H516.0" stroke="#000" stroke-width="1.8"/>
</svg>
</body></html>
